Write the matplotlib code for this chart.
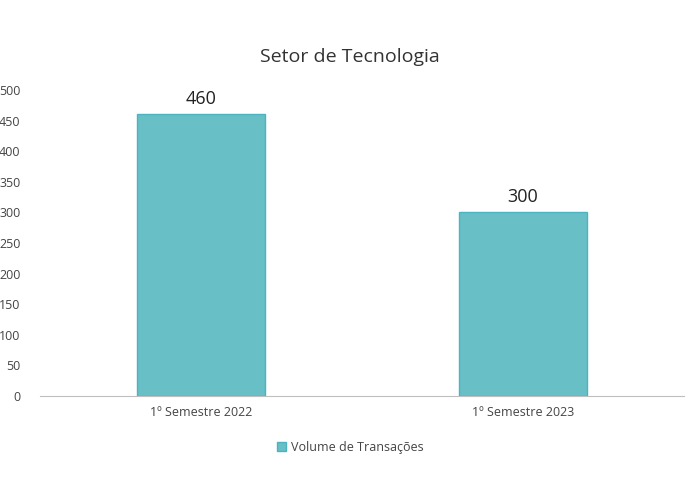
import matplotlib
matplotlib.use("Agg")
import matplotlib.pyplot as plt

categories = ["1º Semestre 2022", "1º Semestre 2023"]
values = [460, 300]
series_name = "Volume de Transações"
yticks = [0, 50, 100, 150, 200, 250, 300, 350, 400, 450, 500]

plt.rcParams['font.family'] = ['Open Sans', 'DejaVu Sans']
fig = plt.figure(figsize=(7, 5), dpi=100)
ax = fig.add_axes([40/700, 1-396/500, 644/700, 306/500])
x = range(len(categories))
bars = ax.bar(x, values, width=0.4, color="#68BFC6", edgecolor="#4BB4BE", linewidth=1, label=series_name)
for xi, v in zip(x, values):
    ax.text(xi, v + 10, str(v), ha="center", va="bottom", fontsize=13, color="#222222")
ax.set_xlim(-0.5, 1.5)
ax.set_ylim(0, 500)
ax.set_yticks(yticks)
ax.set_xticks(list(x))
ax.set_xticklabels(categories, fontsize=9, color="#444444")
ax.tick_params(axis='y', length=0, labelsize=9, labelcolor="#444444", pad=14)
ax.tick_params(axis='x', length=0, pad=7)
for s in ["top", "right", "left"]:
    ax.spines[s].set_visible(False)
ax.spines["bottom"].set_color("#BFBFBF")
fig.text(0.5, 1-57/500, "Setor de Tecnologia", ha="center", va="center", fontsize=14, color="#333333")
fig.legend(handles=[bars], labels=[series_name], loc="center", bbox_to_anchor=(0.5, 1-447/500),
           frameon=False, fontsize=9, handlelength=0.7, handleheight=0.7, handletextpad=0.4,
           labelcolor="#444444")
fig.savefig("out.png", dpi=100)
